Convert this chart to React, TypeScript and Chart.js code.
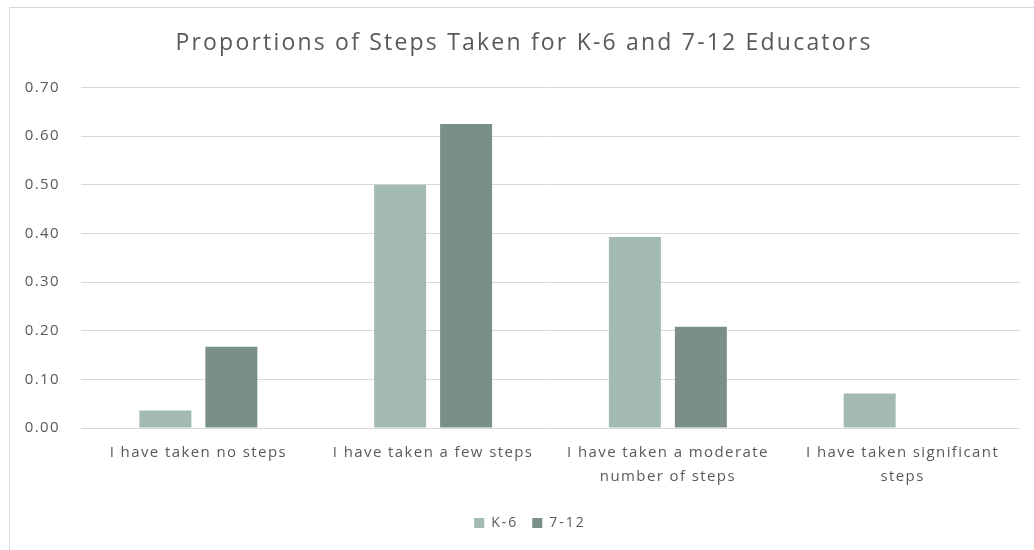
import React, { useEffect, useRef } from "react";
import { Chart, registerables } from "chart.js";

Chart.register(...registerables);

const titleText = "Proportions of Steps Taken for K-6 and 7-12 Educators";
const categories: string[][] = [
  ["I have taken no steps"],
  ["I have taken a few steps"],
  ["I have taken a moderate", "number of steps"],
  ["I have taken significant", "steps"],
];
const seriesNames = ["K-6", "7-12"];
const k6Values = [0.036, 0.5, 0.393, 0.071];
const g712Values = [0.167, 0.625, 0.208, 0];
const yMin = 0;
const yMax = 0.7;
const yStep = 0.1;

const FONT = "'Open Sans', 'Liberation Sans', sans-serif";
const TEXT = "#595959";
const GRID = "#d9d9d9";

const withSpacing = (ctx: any, spacing: string, dx: number, dy: number, fn: () => any) => {
  const prev = ctx.letterSpacing;
  ctx.save();
  ctx.letterSpacing = spacing;
  ctx.translate(dx, dy);
  const r = fn();
  ctx.restore();
  ctx.letterSpacing = prev;
  return r;
};

const spacingPlugin = {
  id: "spacing",
  beforeLayout(chart: any) {
    chart.ctx.letterSpacing = "1.4px";
    const l = chart.legend;
    if (l && !l.__fitWrapped) {
      const origFit = l.fit.bind(l);
      l.fit = (...args: any[]) => withSpacing(chart.ctx, "2px", 0, 0, () => origFit(...args));
      l.__fitWrapped = true;
    }
  },
  afterLayout(chart: any) {
    const t = chart.titleBlock;
    if (t && !t.__wrapped) {
      const orig = t.draw.bind(t);
      t.draw = (...args: any[]) => withSpacing(chart.ctx, "2.2px", 14, 0, () => orig(...args));
      t.__wrapped = true;
    }
    const l = chart.legend;
    if (l && !l.__wrapped) {
      const origL = l.draw.bind(l);
      l.draw = (...args: any[]) => withSpacing(chart.ctx, "2px", 20, -3, () => origL(...args));
      l.__wrapped = true;
    }
  },
  beforeDraw(chart: any) {
    chart.ctx.letterSpacing = "1.4px";
  },
};

export default function App() {
  const ref = useRef<HTMLCanvasElement | null>(null);

  useEffect(() => {
    if (!ref.current) return;
    const chart = new Chart(ref.current, {
      type: "bar",
      data: {
        labels: categories,
        datasets: [
          {
            label: seriesNames[0],
            data: k6Values,
            backgroundColor: "#a2b9b4",
            borderWidth: 0,
          },
          {
            label: seriesNames[1],
            data: g712Values,
            backgroundColor: "#7a8e8a",
            borderWidth: 0,
          },
        ],
      },
      plugins: [spacingPlugin],
      options: {
        responsive: false,
        animation: false,
        devicePixelRatio: 1,
        datasets: {
          bar: { categoryPercentage: 0.562, barPercentage: 0.788 },
        },
        layout: { padding: { left: 0, right: 14, top: 0, bottom: 7 } },
        plugins: {
          tooltip: { enabled: false },
          title: {
            display: true,
            text: titleText,
            color: TEXT,
            font: { family: FONT, size: 23, weight: "normal" },
            padding: { top: 30, bottom: 30 },
          },
          legend: {
            position: "bottom",
            labels: {
              color: TEXT,
              font: { family: FONT, size: 14 },
              boxWidth: 10,
              boxHeight: 10,
              padding: 14,
            },
          },
        },
        scales: {
          x: {
            grid: { display: false, drawTicks: false },
            border: { display: false },
            ticks: {
              color: TEXT,
              font: { family: FONT, size: 15, lineHeight: "24px" },
              padding: 13,
              maxRotation: 0,
              autoSkip: false,
            },
            afterFit: (s: any) => {
              s.height = 77;
            },
          },
          y: {
            min: yMin,
            max: yMax,
            grid: { color: GRID, lineWidth: 1, drawTicks: false },
            border: { display: false },
            ticks: {
              stepSize: yStep,
              color: TEXT,
              font: { family: FONT, size: 15 },
              padding: 21,
              callback: (v: any) => Number(v).toFixed(2),
            },
            afterFit: (s: any) => {
              s.width = 81;
            },
          },
        },
      },
    });
    return () => chart.destroy();
  }, []);

  return (
    <div style={{ position: "fixed", left: 0, top: 0, width: 1034, height: 550, background: "#fff", overflow: "hidden" }}>
      <div style={{ position: "absolute", left: 9, top: 7, width: 1040, height: 560, border: "1px solid #d9d9d9" }} />
      <canvas ref={ref} width={1034} height={550} style={{ position: "absolute", left: 0, top: 0, display: "block" }} />
    </div>
  );
}
